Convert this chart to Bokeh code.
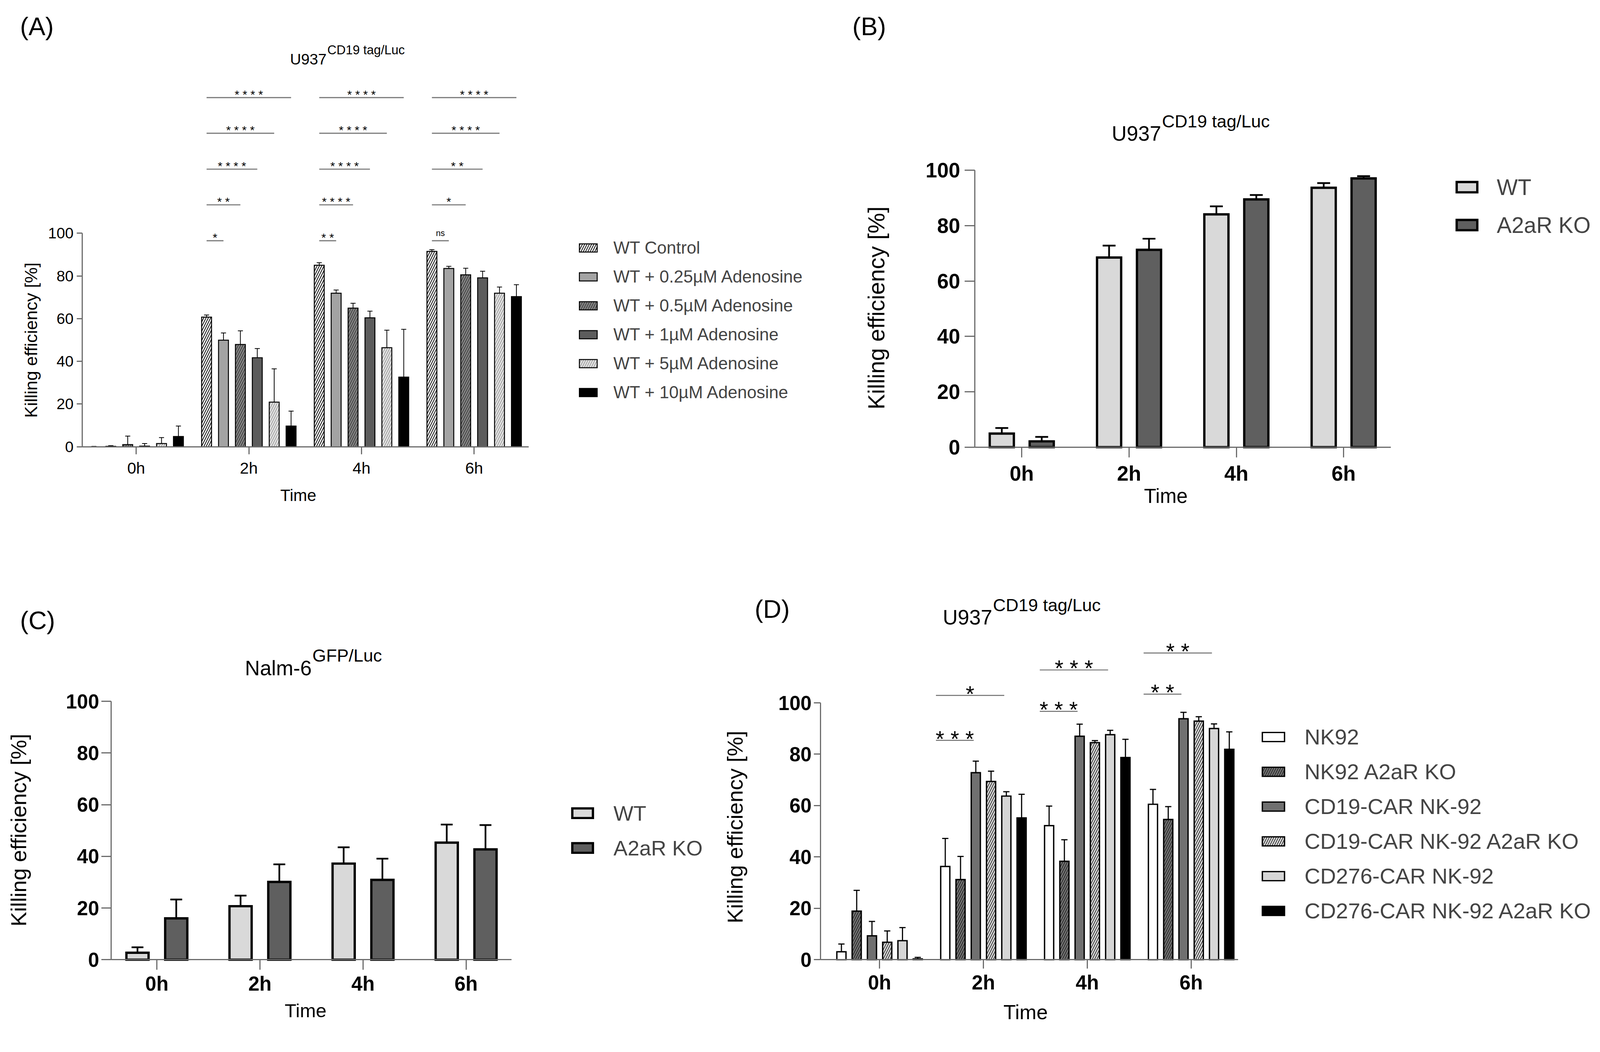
import math

from bokeh.core.properties import value
from bokeh.embed import file_html
from bokeh.layouts import column, row
from bokeh.models import ColumnDataSource, FixedTicker, Label, Legend, LegendItem, Range1d
from bokeh.plotting import figure
from bokeh.resources import INLINE

FONT = "Liberation Sans"

times = ["0h", "2h", "4h", "6h"]

# (A) U937 CD19 tag/Luc, WT cells with adenosine
a_names = ["WT Control", "WT + 0.25µM Adenosine", "WT + 0.5µM Adenosine",
           "WT + 1µM Adenosine", "WT + 5µM Adenosine", "WT + 10µM Adenosine"]
a_control = [0.0, 60.7, 85.0, 91.5]
a_control_err = [0.2, 1.0, 1.2, 0.8]
a_ado_025 = [0.2, 49.9, 71.9, 83.5]
a_ado_025_err = [0.3, 3.4, 1.5, 1.0]
a_ado_05 = [1.0, 47.9, 64.9, 80.5]
a_ado_05_err = [4.0, 6.4, 2.3, 3.1]
a_ado_1 = [0.3, 41.7, 60.4, 79.1]
a_ado_1_err = [1.2, 4.3, 3.1, 3.1]
a_ado_5 = [1.5, 20.9, 46.4, 71.9]
a_ado_5_err = [2.8, 15.6, 8.2, 2.9]
a_ado_10 = [4.8, 9.7, 32.6, 70.3]
a_ado_10_err = [4.9, 7.0, 22.4, 5.6]

# comparisons against WT Control (bar 0): time index, other bar, bracket height, label
a_sig_time = [1, 1, 1, 1, 1, 2, 2, 2, 2, 2, 3, 3, 3, 3, 3]
a_sig_bar = [1, 2, 3, 4, 5, 1, 2, 3, 4, 5, 1, 2, 3, 4, 5]
a_sig_y = [96.5, 113.3, 130, 146.8, 163.5, 96.5, 113.3, 130, 146.8, 163.5, 96.5, 113.3, 130, 146.8, 163.5]
a_sig_text = ["*", "**", "****", "****", "****",
              "**", "****", "****", "****", "****",
              "ns", "*", "**", "****", "****"]

# (B) U937 CD19 tag/Luc, WT vs A2aR KO
b_names = ["WT", "A2aR KO"]
b_wt = [4.9, 68.5, 84.1, 93.7]
b_wt_err = [2.0, 4.3, 2.9, 1.7]
b_ko = [2.1, 71.3, 89.5, 97.1]
b_ko_err = [1.6, 4.0, 1.6, 0.8]

# (C) Nalm-6 GFP/Luc, WT vs A2aR KO
c_names = ["WT", "A2aR KO"]
c_wt = [2.7, 20.7, 37.2, 45.3]
c_wt_err = [2.1, 4.1, 6.3, 7.0]
c_ko = [16.0, 30.1, 30.9, 42.7]
c_ko_err = [7.3, 6.8, 8.2, 9.4]

# (D) U937 CD19 tag/Luc, CAR NK-92 cells
d_names = ["NK92", "NK92 A2aR KO", "CD19-CAR NK-92", "CD19-CAR NK-92 A2aR KO",
           "CD276-CAR NK-92", "CD276-CAR NK-92 A2aR KO"]
d_nk92 = [3.1, 36.3, 52.2, 60.5]
d_nk92_err = [3.0, 10.9, 7.6, 5.8]
d_nk92_ko = [18.9, 31.2, 38.3, 54.6]
d_nk92_ko_err = [8.1, 9.0, 8.4, 5.0]
d_cd19 = [9.3, 72.8, 87.0, 93.8]
d_cd19_err = [5.6, 4.5, 4.7, 2.5]
d_cd19_ko = [6.8, 69.4, 84.5, 92.9]
d_cd19_ko_err = [4.4, 4.0, 0.8, 1.7]
d_cd276 = [7.4, 63.7, 87.6, 90.0]
d_cd276_err = [5.1, 1.7, 1.7, 1.8]
d_cd276_ko = [0.3, 55.2, 78.7, 81.9]
d_cd276_ko_err = [0.6, 9.2, 7.1, 6.8]

d_sig_time = [1, 1, 2, 2, 3, 3]
d_sig_bar = [2, 4, 2, 4, 2, 4]
d_sig_y = [85.4, 102.9, 96.7, 112.8, 103.4, 119.4]
d_sig_text = ["***", "*", "***", "***", "**", "**"]


# the photographed page comes out slightly enlarged: css px = K * picture px
K = 0.981
ROW1_H, ROW2_H = 1365, 1260
A_W, B_W = 2101, 1987
C_W, D_W = 1836, 2252

# positions below are in picture pixels
geo_a = dict(box=(8, 8, A_W, ROW1_H), left=222, bottom=1173, right=1387, zero=363, step=294,
             yscale=5.57, tick_size=40, tick_bold=False, xtick_size=42, ytick_out=14, xtick_out=19,
             ystand=8, xstand=13)
geo_b = dict(box=(8 + A_W, 8, B_W, ROW1_H), left=2551, bottom=1174, right=3637, zero=2674, step=280,
             yscale=7.22, tick_size=54, tick_bold=True, xtick_size=54, ytick_out=26, xtick_out=27,
             ystand=11, xstand=12)
geo_c = dict(box=(8, 8 + ROW1_H, C_W, ROW2_H), left=298, bottom=2511, right=1343, zero=417, step=269,
             yscale=6.74, tick_size=52, tick_bold=True, xtick_size=52, ytick_out=25, xtick_out=27,
             ystand=6, xstand=7)
geo_d = dict(box=(8 + C_W, 8 + ROW1_H, D_W, ROW2_H), left=2149, bottom=2511, right=3239, zero=2303,
             step=271, yscale=6.70, tick_size=52, tick_bold=True, xtick_size=52, ytick_out=17,
             xtick_out=23, ystand=6, xstand=7)


def s(v):
    return v * K


def si(v):
    return int(round(v * K))


def fs(v):
    return f"{v * K:.1f}px"


def px_x(g, px):
    return (px - g["zero"]) / g["step"]


def px_y(g, py):
    return (g["bottom"] - py) / g["yscale"]


def edges(g):
    bx, by, bw, bh = g["box"]
    return bx / K, by / K, (bx + bw) / K, (by + bh) / K


def base_figure(g):
    x0, y0, x1, y1 = edges(g)
    p = figure(width=g["box"][2], height=g["box"][3],
               x_range=Range1d(px_x(g, x0), px_x(g, x1)), y_range=Range1d(px_y(g, y1), px_y(g, y0)),
               min_border=0, output_backend="svg", toolbar_location=None)
    p.grid.visible = False
    p.outline_line_color = None

    p.xaxis.ticker = FixedTicker(ticks=list(range(len(times))))
    p.xaxis.major_label_overrides = {i: t for i, t in enumerate(times)}
    p.xaxis.bounds = (px_x(g, g["left"]), px_x(g, g["right"]))
    p.xaxis.fixed_location = 0
    p.yaxis.ticker = FixedTicker(ticks=[0, 20, 40, 60, 80, 100])
    p.yaxis.bounds = (0, 100)
    p.yaxis.fixed_location = px_x(g, g["left"])

    for ax in (p.xaxis[0], p.yaxis[0]):
        ax.axis_line_color = "#6b6b6b"
        ax.axis_line_width = s(3)
        ax.major_tick_line_color = "#6b6b6b"
        ax.major_tick_line_width = s(3)
        ax.major_tick_in = 0
        ax.minor_tick_line_color = None
        ax.major_label_text_font = FONT
        ax.major_label_text_color = "black"
        ax.major_label_text_font_style = "bold" if g["tick_bold"] else "normal"

    p.yaxis.major_tick_out = si(g["ytick_out"])
    p.xaxis.major_tick_out = si(g["xtick_out"])
    p.yaxis.major_label_text_font_size = fs(g["tick_size"])
    p.xaxis.major_label_text_font_size = fs(g["xtick_size"])
    p.yaxis.major_label_standoff = si(g["ystand"])
    p.xaxis.major_label_standoff = si(g["xstand"])
    return p


def add_text(p, g, px, py, text, size, align="left", baseline="alphabetic", angle=0.0):
    p.add_layout(Label(x=px_x(g, px), y=px_y(g, py), text=text, text_font=FONT,
                       text_font_size=fs(size), text_align=align, text_baseline=baseline,
                       text_color="black", angle=angle))


def axis_titles(p, g, ylab, ysize, xlab, xsize):
    add_text(p, g, ylab[0], ylab[1], "Killing efficiency [%]", ysize, "center", "middle", math.pi / 2)
    add_text(p, g, xlab[0], xlab[1], "Time", xsize, "center", "middle")


def draw_bars(p, series, styles, offsets, width, cap, lw, elw):
    renderers = []
    for (means, errs), st, off in zip(series, styles, offsets):
        xs = [i + off for i in range(len(times))]
        ups = [m + e for m, e in zip(means, errs)]
        src = ColumnDataSource(dict(x=xs, top=means, up=ups,
                                    cl=[x - cap / 2 for x in xs], cr=[x + cap / 2 for x in xs]))
        p.segment(x0="x", y0="top", x1="x", y1="up", source=src, line_color="black", line_width=s(elw))
        p.segment(x0="cl", y0="up", x1="cr", y1="up", source=src, line_color="black", line_width=s(elw))
        r = p.vbar(x="x", top="top", width=width, source=src, fill_color=st["fill"],
                   line_color="black", line_width=s(lw), line_join="miter",
                   hatch_pattern=st.get("hatch"), hatch_color=st.get("hatch_color", "black"),
                   hatch_scale=s(st.get("hatch_scale", 12)), hatch_weight=s(st.get("hatch_weight", 2)))
        renderers.append(r)
    return renderers


def add_legend(p, g, renderers, names, swatch_left, first_row, pitch, sw, sh, text_left, size):
    x0, y0, x1, y1 = edges(g)
    spacing = 10
    step = si(pitch)
    item_h = step - spacing
    n = len(names)
    bottom_css = s(first_row) + (n - 1) * step + item_h / 2
    legend = Legend(items=[LegendItem(label=nm, renderers=[r]) for nm, r in zip(names, renderers)],
                    location=(s(swatch_left - x0), s(y1) - bottom_css),
                    glyph_width=si(sw), glyph_height=si(sh), label_height=item_h, spacing=spacing,
                    label_standoff=si(text_left - swatch_left - sw), padding=0, margin=0,
                    border_line_color=None, background_fill_alpha=0,
                    label_text_font=FONT, label_text_font_size=fs(size))
    p.add_layout(legend)


def add_brackets(p, g, sig_time, sig_bar, sig_y, sig_text, offsets, start_shift, end_shift,
                 color, lw, star_size, star_lift, ns_size, ns_lift):
    x0 = [t + offsets[0] + start_shift for t in sig_time]
    x1 = [t + offsets[b] + end_shift for t, b in zip(sig_time, sig_bar)]
    p.segment(x0=x0, y0=sig_y, x1=x1, y1=sig_y, line_color=color, line_width=s(lw))
    keep = [t != "ns" for t in sig_text]
    p.text(x=[(a + b) / 2 for a, b, k in zip(x0, x1, keep) if k],
           y=[y + star_lift / g["yscale"] for y, k in zip(sig_y, keep) if k],
           text=[" ".join(t) for t, k in zip(sig_text, keep) if k],
           text_font=value(FONT), text_font_size=fs(star_size),
           text_align="center", text_baseline="alphabetic", text_color="black")
    ns_x = [(a + b) / 2 for a, b, k in zip(x0, x1, keep) if not k]
    if ns_x:
        p.text(x=ns_x, y=[y + ns_lift / g["yscale"] for y, k in zip(sig_y, keep) if not k],
               text=["ns"] * len(ns_x), text_font=value(FONT), text_font_size=fs(ns_size),
               text_align="center", text_baseline="alphabetic", text_color="black")


# ---------------- (A)
pa = base_figure(geo_a)
a_offsets = [(k - 2.5) * 0.15 for k in range(6)]
a_styles = [dict(fill="white", hatch="/", hatch_color="black"),
            dict(fill="#a3a3a3"),
            dict(fill="#8a8a8a", hatch="/", hatch_color="#383838"),
            dict(fill="#5c5c5c"),
            dict(fill="#ababab", hatch="/", hatch_color="white"),
            dict(fill="black")]
a_series = [(a_control, a_control_err), (a_ado_025, a_ado_025_err), (a_ado_05, a_ado_05_err),
            (a_ado_1, a_ado_1_err), (a_ado_5, a_ado_5_err), (a_ado_10, a_ado_10_err)]
a_r = draw_bars(pa, a_series, a_styles, a_offsets, 0.088, 0.045, 2.5, 2)
add_brackets(pa, geo_a, a_sig_time, a_sig_bar, a_sig_y, a_sig_text, a_offsets, 0.0, 0.0,
             "#7a7a7a", 3, 31, 9, 22, 20)
add_legend(pa, geo_a, a_r, a_names, 1514, 654, 75.5, 58, 26, 1609, 45)
axis_titles(pa, geo_a, (89, 895), 46, (786, 1300), 43)
add_text(pa, geo_a, 60, 76, "(A)", 66)
add_text(pa, geo_a, 860, 162, "U937", 40, align="right")
add_text(pa, geo_a, 862, 138, "CD19 tag/Luc", 33)

# ---------------- (B)
pb = base_figure(geo_b)
two_styles = [dict(fill="#d9d9d9"), dict(fill="#5f5f5f")]
b_r = draw_bars(pb, [(b_wt, b_wt_err), (b_ko, b_ko_err)], two_styles, [-0.186, 0.186], 0.225, 0.12, 6, 4.5)
add_legend(pb, geo_b, b_r, b_names, 3802, 496, 99, 67, 34, 3914, 58)
axis_titles(pb, geo_b, (2295, 811), 60, (3050, 1302), 52)
add_text(pb, geo_b, 2232, 76, "(B)", 66)
add_text(pb, geo_b, 3038, 356, "U937", 54, align="right")
add_text(pb, geo_b, 3040, 324, "CD19 tag/Luc", 46)

# ---------------- (C)
pc = base_figure(geo_c)
c_r = draw_bars(pc, [(c_wt, c_wt_err), (c_ko, c_ko_err)], two_styles, [-0.188, 0.188], 0.215, 0.115, 6, 4.5)
add_legend(pc, geo_c, c_r, c_names, 1494, 2129, 91, 67, 32, 1609, 55)
axis_titles(pc, geo_c, (56, 2173), 57, (805, 2644), 50)
add_text(pc, geo_c, 60, 1626, "(C)", 66)
add_text(pc, geo_c, 821, 1750, "Nalm-6", 54, align="right")
add_text(pc, geo_c, 823, 1718, "GFP/Luc", 46)

# ---------------- (D)
pd_ = base_figure(geo_d)
d_offsets = [(k - 2.5) * 0.147 for k in range(6)]
d_styles = [dict(fill="white"),
            dict(fill="#7d7d7d", hatch="/", hatch_color="#2b2b2b", hatch_weight=2.5),
            dict(fill="#707070"),
            dict(fill="#f2f2f2", hatch="/", hatch_color="#3a3a3a", hatch_weight=2.5),
            dict(fill="#d6d6d6"),
            dict(fill="black")]
d_series = [(d_nk92, d_nk92_err), (d_nk92_ko, d_nk92_ko_err), (d_cd19, d_cd19_err),
            (d_cd19_ko, d_cd19_ko_err), (d_cd276, d_cd276_err), (d_cd276_ko, d_cd276_ko_err)]
d_r = draw_bars(pd_, d_series, d_styles, d_offsets, 0.088, 0.06, 3.5, 3)
add_brackets(pd_, geo_d, d_sig_time, d_sig_bar, d_sig_y, d_sig_text, d_offsets, -0.09, -0.02,
             "#6d6d6d", 2.5, 58, 4, 40, 20)
add_legend(pd_, geo_d, d_r, d_names, 3295, 1930, 90.8, 72, 30, 3412, 57)
axis_titles(pd_, geo_d, (1926, 2165), 57, (2684, 2648), 53)
add_text(pd_, geo_d, 1977, 1596, "(D)", 66)
add_text(pd_, geo_d, 2597, 1618, "U937", 54, align="right")
add_text(pd_, geo_d, 2599, 1586, "CD19 tag/Luc", 46)

layout = column(row(pa, pb), row(pc, pd_))
open("out.html", "w").write(file_html(layout, INLINE))
